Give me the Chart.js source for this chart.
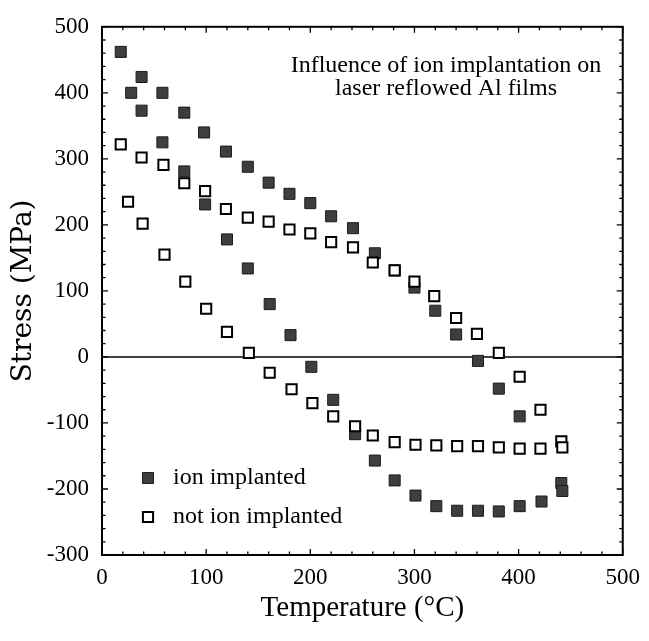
<!DOCTYPE html>
<html lang="en">
<head>
<meta charset="UTF-8">
<title>Stress vs Temperature</title>
<script src="https://cdn.jsdelivr.net/npm/chart.js@4.4.1/dist/chart.umd.min.js"></script>
<style>
  html, body { margin: 0; padding: 0; background: #fff; }
  #stressChart { display: block; }
</style>
</head>
<body>
<canvas id="stressChart" width="649" height="641"></canvas>
<script>
// values: temperature (C) and stress (MPa)
var implantedTemp   = [18, 28, 38, 38, 58, 58, 79, 79, 98, 99, 119, 120, 140, 140, 160, 161, 180, 181, 200, 201,
                       220, 222, 241, 243, 262, 262, 281, 281, 300, 301, 320, 321, 340, 341, 361, 361, 381, 381,
                       401, 401, 422, 441, 442];
var implantedStress = [462, 400, 424, 373, 400, 325, 370, 281, 340, 231, 311, 178, 288, 134, 264, 80, 247, 33, 233, -15,
                       213, -65, 195, -117, 157, -157, 131, -187, 105, -210, 70, -226, 34, -233, -6, -233, -48, -234,
                       -90, -226, -219, -191, -203];

var plainTemp   = [18, 25, 38, 39, 59, 60, 79, 80, 99, 100, 119, 120, 140, 141, 160, 161, 180, 182, 200, 202,
                   220, 222, 241, 243, 260, 260, 281, 281, 300, 301, 319, 321, 340, 341, 360, 361, 381, 381,
                   401, 401, 421, 421, 441, 442];
var plainStress = [322, 235, 302, 202, 291, 155, 263, 114, 251, 73, 224, 38, 211, 6, 205, -24, 193, -49, 187, -70,
                   174, -90, 166, -105, 143, -119, 131, -129, 114, -133, 92, -134, 59, -135, 35, -135, 6, -137,
                   -30, -139, -80, -139, -128, -137];

var seriesNames = ['ion implanted', 'not ion implanted'];
var xTicks = [0, 100, 200, 300, 400, 500];
var yTicks = [-300, -200, -100, 0, 100, 200, 300, 400, 500];
var noteLines = ['Influence of ion implantation on', 'laser reflowed Al films'];

var serif = '"Liberation Serif", "Times New Roman", serif';

// zip x/y arrays into point objects for the scatter
function toPoints(xs, ys) {
    var pts = [];
    for (var i = 0; i < xs.length; i++) {
        pts.push({x: xs[i], y: ys[i]});
    }
    return pts;
}

// frame, inward ticks, zero line, note text and legend
var decorPlugin = {
    id: 'decor',
    beforeDatasetsDraw: function(chart) {
        var ctx = chart.ctx;
        var area = chart.chartArea;
        var y0 = chart.scales.y.getPixelForValue(0);
        ctx.save();
        ctx.strokeStyle = '#000';
        ctx.lineWidth = 1.5;
        ctx.beginPath();
        ctx.moveTo(area.left, y0);
        ctx.lineTo(area.right, y0);
        ctx.stroke();
        ctx.restore();
    },
    afterDatasetsDraw: function(chart) {
        var ctx = chart.ctx;
        var area = chart.chartArea;
        var xs = chart.scales.x, ys = chart.scales.y;
        ctx.save();
        ctx.strokeStyle = '#000';
        ctx.lineWidth = 2;
        ctx.strokeRect(area.left, area.top, area.right - area.left, area.bottom - area.top);

        // minor ticks every 20, major every 100
        ctx.lineWidth = 1.3;
        ctx.beginPath();
        for (var v = xTicks[0]; v <= xTicks[xTicks.length - 1]; v += 20) {
            var px = xs.getPixelForValue(v);
            var len = (v % 100 === 0) ? 6 : 3.5;
            ctx.moveTo(px, area.bottom); ctx.lineTo(px, area.bottom - len);
            ctx.moveTo(px, area.top); ctx.lineTo(px, area.top + len);
        }
        for (var w = yTicks[0]; w <= yTicks[yTicks.length - 1]; w += 20) {
            var py = ys.getPixelForValue(w);
            var len2 = (w % 100 === 0) ? 6 : 3.5;
            ctx.moveTo(area.left, py); ctx.lineTo(area.left + len2, py);
            ctx.moveTo(area.right, py); ctx.lineTo(area.right - len2, py);
        }
        ctx.stroke();

        // note in the upper right
        ctx.fillStyle = '#000';
        ctx.font = '24px ' + serif;
        ctx.textAlign = 'center';
        ctx.textBaseline = 'alphabetic';
        ctx.fillText(noteLines[0], 446, 72);
        ctx.fillText(noteLines[1], 446, 95);

        // legend in the lower left
        var ds = chart.data.datasets;
        var rows = [ds[1], ds[0]];
        ctx.textAlign = 'left';
        ctx.textBaseline = 'middle';
        for (var i = 0; i < rows.length; i++) {
            var cy = 478 + i * 39;
            var half = rows[i].pointRadius * Math.SQRT1_2;
            ctx.fillStyle = rows[i].backgroundColor;
            ctx.strokeStyle = rows[i].borderColor;
            ctx.lineWidth = rows[i].borderWidth;
            ctx.beginPath();
            ctx.rect(148 - half, cy - half, half * 2, half * 2);
            ctx.fill();
            ctx.stroke();
            ctx.fillStyle = '#000';
            ctx.fillText(rows[i].label, 173, cy);
        }
        ctx.restore();
    }
};

var chart = new Chart(document.getElementById('stressChart'), {
    type: 'scatter',
    data: {
        datasets: [
            {
                label: seriesNames[1],
                data: toPoints(plainTemp, plainStress),
                pointStyle: 'rect',
                pointRadius: 7.2,
                backgroundColor: '#ffffff',
                borderColor: '#000000',
                borderWidth: 2,
                order: 0
            },
            {
                label: seriesNames[0],
                data: toPoints(implantedTemp, implantedStress),
                pointStyle: 'rect',
                pointRadius: 7.8,
                backgroundColor: '#3e3e3e',
                borderColor: '#1c1c1c',
                borderWidth: 1,
                order: 1
            }
        ]
    },
    options: {
        responsive: false,
        animation: false,
        events: [],
        layout: { padding: { top: 24, right: 20, left: 0, bottom: 0 } },
        plugins: {
            legend: { display: false },
            tooltip: { enabled: false }
        },
        scales: {
            x: {
                type: 'linear',
                min: xTicks[0],
                max: xTicks[xTicks.length - 1],
                grid: { display: false, drawTicks: false },
                border: { display: false },
                afterBuildTicks: function(s) { s.ticks = xTicks.map(function(v) { return {value: v}; }); },
                afterFit: function(s) { s.height = 86; },
                ticks: {
                    padding: 9,
                    color: '#000',
                    font: { family: serif, size: 23 },
                    callback: function(v) { return String(v); }
                },
                title: {
                    display: true,
                    text: 'Temperature (°C)',
                    color: '#000',
                    font: { family: serif, size: 29 },
                    padding: { top: 0, bottom: 15 }
                }
            },
            y: {
                type: 'linear',
                min: yTicks[0],
                max: yTicks[yTicks.length - 1],
                grid: { display: false, drawTicks: false },
                border: { display: false },
                afterBuildTicks: function(s) { s.ticks = yTicks.map(function(v) { return {value: v}; }); },
                afterFit: function(s) { s.width = 102; },
                ticks: {
                    padding: 13,
                    color: '#000',
                    font: { family: serif, size: 23 },
                    callback: function(v) { return String(v); }
                },
                title: {
                    display: true,
                    text: 'Stress (MPa)',
                    color: '#000',
                    font: { family: '"DejaVu Serif", serif', size: 28 },
                    padding: { top: 7, bottom: 0 }
                }
            }
        }
    },
    plugins: [decorPlugin]
});
</script>
</body>
</html>
